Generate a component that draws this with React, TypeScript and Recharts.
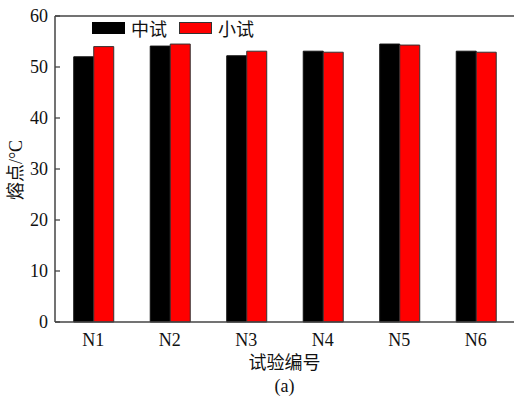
import { BarChart, Bar, XAxis, YAxis, Label, ReferenceLine } from "recharts";

/* ── Data ─────────────────────────────────────────────────── */
const categories = ["N1", "N2", "N3", "N4", "N5", "N6"];
const pilotValues = [52.0, 54.1, 52.2, 53.1, 54.5, 53.1]; // 中试
const labValues = [54.0, 54.5, 53.1, 52.9, 54.3, 52.9]; // 小试
const yTicks = [0, 10, 20, 30, 40, 50, 60];

const data = categories.map((name, i) => ({
  name,
  pilot: pilotValues[i],
  lab: labValues[i],
}));

const SERIF = "Liberation Serif, Noto Sans CJK SC, serif";
const AXIS = "#444";
const txt = { fontFamily: SERIF, fontSize: 18 };

/* ── Inner tick for the y axis ────────────────────────────── */
function YTick(props: any) {
  const { x, y, payload } = props;
  return (
    <g>
      <line x1={x + 7} x2={x + 12} y1={y} y2={y} stroke={AXIS} strokeWidth={1.3} />
      <text x={x} y={y} dy={6} textAnchor="end" style={txt} fill="#111">
        {payload.value}
      </text>
    </g>
  );
}

function XTick(props: any) {
  const { x, y, payload } = props;
  return (
    <text x={x} y={y} dy={14} textAnchor="middle" style={txt} fill="#111">
      {payload.value}
    </text>
  );
}

/* ── Legend overlay ───────────────────────────────────────── */
function LegendBox() {
  const items = [
    { label: "中试", fill: "#000", stroke: "#000" },
    { label: "小试", fill: "#ff0000", stroke: "#333" },
  ];
  return (
    <div
      style={{
        position: "absolute",
        left: 92,
        top: 15,
        display: "flex",
        alignItems: "center",
        fontFamily: SERIF,
        fontSize: 18,
        color: "#111",
      }}
    >
      {items.map((it) => (
        <div key={it.label} style={{ display: "flex", alignItems: "center", marginRight: 12 }}>
          <div
            style={{
              width: 31,
              height: 10,
              background: it.fill,
              border: `1px solid ${it.stroke}`,
              marginRight: 6,
            }}
          />
          <span>{it.label}</span>
        </div>
      ))}
    </div>
  );
}

export default function App() {
  return (
    <div style={{ position: "absolute", left: 0, top: 0, width: 527, height: 404, background: "#fff" }}>
      <BarChart
        width={527}
        height={404}
        data={data}
        margin={{ top: 16, right: 13, bottom: 52, left: 0 }}
        barCategoryGap="24.5%"
        barGap={0}
      >
        <XAxis
          dataKey="name"
          height={30}
          stroke={AXIS}
          strokeWidth={1.5}
          tickLine={false}
          tickMargin={4}
          tick={<XTick />}
        >
          <Label
            content={(p: any) => {
              const vb = p.viewBox;
              const cx = vb.x + vb.width / 2;
              return (
                <g fill="#111" textAnchor="middle">
                  <text x={cx} y={vb.y + 47} style={txt}>
                    试验编号
                  </text>
                  <text x={cx} y={vb.y + 70} style={txt}>
                    (a)
                  </text>
                </g>
              );
            }}
          />
        </XAxis>
        <YAxis
          yAxisId="left"
          width={55}
          domain={[0, 60]}
          ticks={yTicks}
          stroke={AXIS}
          strokeWidth={1.5}
          tickLine={false}
          tickSize={0}
          tickMargin={7}
          tick={<YTick />}
        >
          <Label
            content={() => (
              <text
                x={22}
                y={170}
                transform="rotate(-90 22 170)"
                textAnchor="middle"
                style={txt}
                fill="#111"
              >
                熔点/°C
              </text>
            )}
          />
        </YAxis>
        <YAxis yAxisId="right" orientation="right" width={0} domain={[0, 60]} tick={false} tickLine={false} stroke={AXIS} strokeWidth={1.5} />
        <ReferenceLine yAxisId="left" y={60} stroke={AXIS} strokeWidth={1.5} />
        <Bar dataKey="pilot" name="中试" yAxisId="left" fill="#000" stroke="#111" isAnimationActive={false} />
        <Bar dataKey="lab" name="小试" yAxisId="left" fill="#ff0000" stroke="#333" isAnimationActive={false} />
      </BarChart>
      <LegendBox />
    </div>
  );
}
